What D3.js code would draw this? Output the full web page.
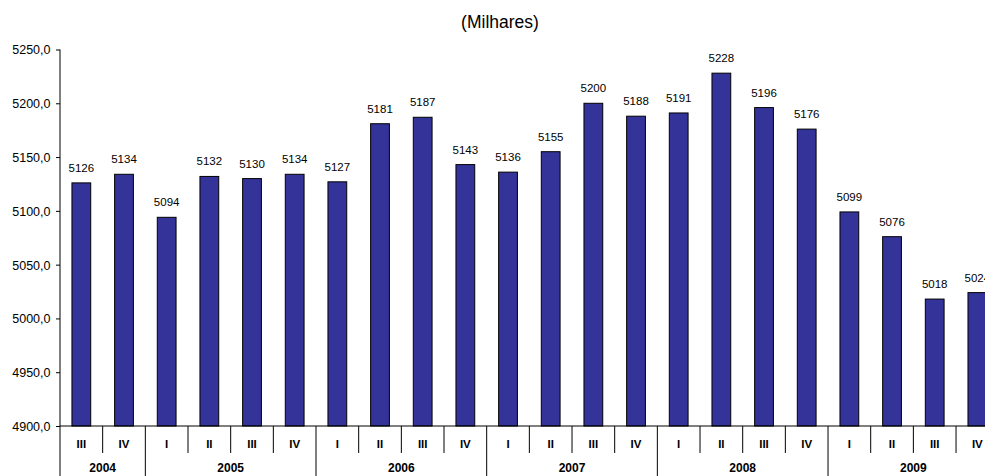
<!DOCTYPE html>
<html><head><meta charset="utf-8">
<script src="https://cdn.jsdelivr.net/npm/d3@7"></script>
<style>body{margin:0;background:#fff;overflow:hidden}svg{display:block;font-family:Arial,"Liberation Sans",sans-serif}</style>
</head><body><svg id="c" width="985" height="476"></svg>
<script>
const years = ["2004","2004","2005","2005","2005","2005","2006","2006","2006","2006","2007","2007","2007","2007","2008","2008","2008","2008","2009","2009","2009","2009"];
const quarters = ["III","IV","I","II","III","IV","I","II","III","IV","I","II","III","IV","I","II","III","IV","I","II","III","IV"];
const values = [5126,5134,5094,5132,5130,5134,5127,5181,5187,5143,5136,5155,5200,5188,5191,5228,5196,5176,5099,5076,5018,5024];
const yTicks = [4900,4950,5000,5050,5100,5150,5200,5250];
const title = "(Milhares)";

const svg = d3.select("#c");
const mLeft = 60, mRight = 998.7, mTop = 49.5, mBottom = 426;
const keys = values.map((d,i)=>i);
const x = d3.scaleBand().domain(keys).range([mLeft,mRight]).paddingInner(0).paddingOuter(0);
const y = d3.scaleLinear().domain([4900,5250]).range([mBottom,mTop]);
const bw = x.bandwidth()*0.44;

svg.append("text").attr("x",500).attr("y",28).attr("text-anchor","middle").attr("font-size",17.5).text(title);

// bars
svg.selectAll("rect.bar").data(values).enter().append("rect")
  .attr("x",(d,i)=>x(i)+x.bandwidth()/2-bw/2).attr("y",d=>y(d))
  .attr("width",bw).attr("height",d=>mBottom-y(d))
  .attr("fill","#333399").attr("stroke","#000").attr("stroke-width",1);

svg.selectAll("text.lbl").data(values).enter().append("text")
  .attr("x",(d,i)=>x(i)+x.bandwidth()/2).attr("y",d=>y(d)-11)
  .attr("text-anchor","middle").attr("font-size",11.5).text(d=>d);

// y axis
const yAxis = d3.axisLeft(y).tickValues(yTicks).tickSize(4).tickFormat(d=>d.toFixed(1).replace(".",","));
const ga = svg.append("g").attr("transform",`translate(${mLeft},0)`).call(yAxis);
ga.select(".domain").attr("stroke","#000").attr("d",`M0,${mTop}V${mBottom}`);
ga.selectAll(".tick line").attr("stroke","#000");
ga.selectAll(".tick text").attr("font-size",12.5).attr("font-family","Arial,'Liberation Sans',sans-serif").attr("fill","#000").attr("x",-9.5).attr("dy","0.35em");

// x baseline
svg.append("line").attr("x1",mLeft).attr("x2",mRight).attr("y1",mBottom).attr("y2",mBottom).attr("stroke","#000");

// quarter labels & separators
svg.selectAll("text.q").data(quarters).enter().append("text")
  .attr("x",(d,i)=>x(i)+x.bandwidth()/2).attr("y",448)
  .attr("text-anchor","middle").attr("font-size",11.5).attr("font-weight","bold").text(d=>d);

keys.forEach(i=>{
  const isYearStart = i===0 || years[i]!==years[i-1];
  svg.append("line").attr("x1",x(i)).attr("x2",x(i)).attr("y1",mBottom).attr("y2",isYearStart?476:453).attr("stroke","#000").attr("stroke-width",1);
});

// year labels
const yearNames = Array.from(new Set(years));
yearNames.forEach(yr=>{
  const idx = keys.filter(i=>years[i]===yr);
  const x0 = x(idx[0]), x1 = x(idx[idx.length-1])+x.bandwidth();
  svg.append("text").attr("x",(x0+x1)/2).attr("y",472).attr("text-anchor","middle")
    .attr("font-size",12).attr("font-weight","bold").text(yr);
});
</script></body></html>
